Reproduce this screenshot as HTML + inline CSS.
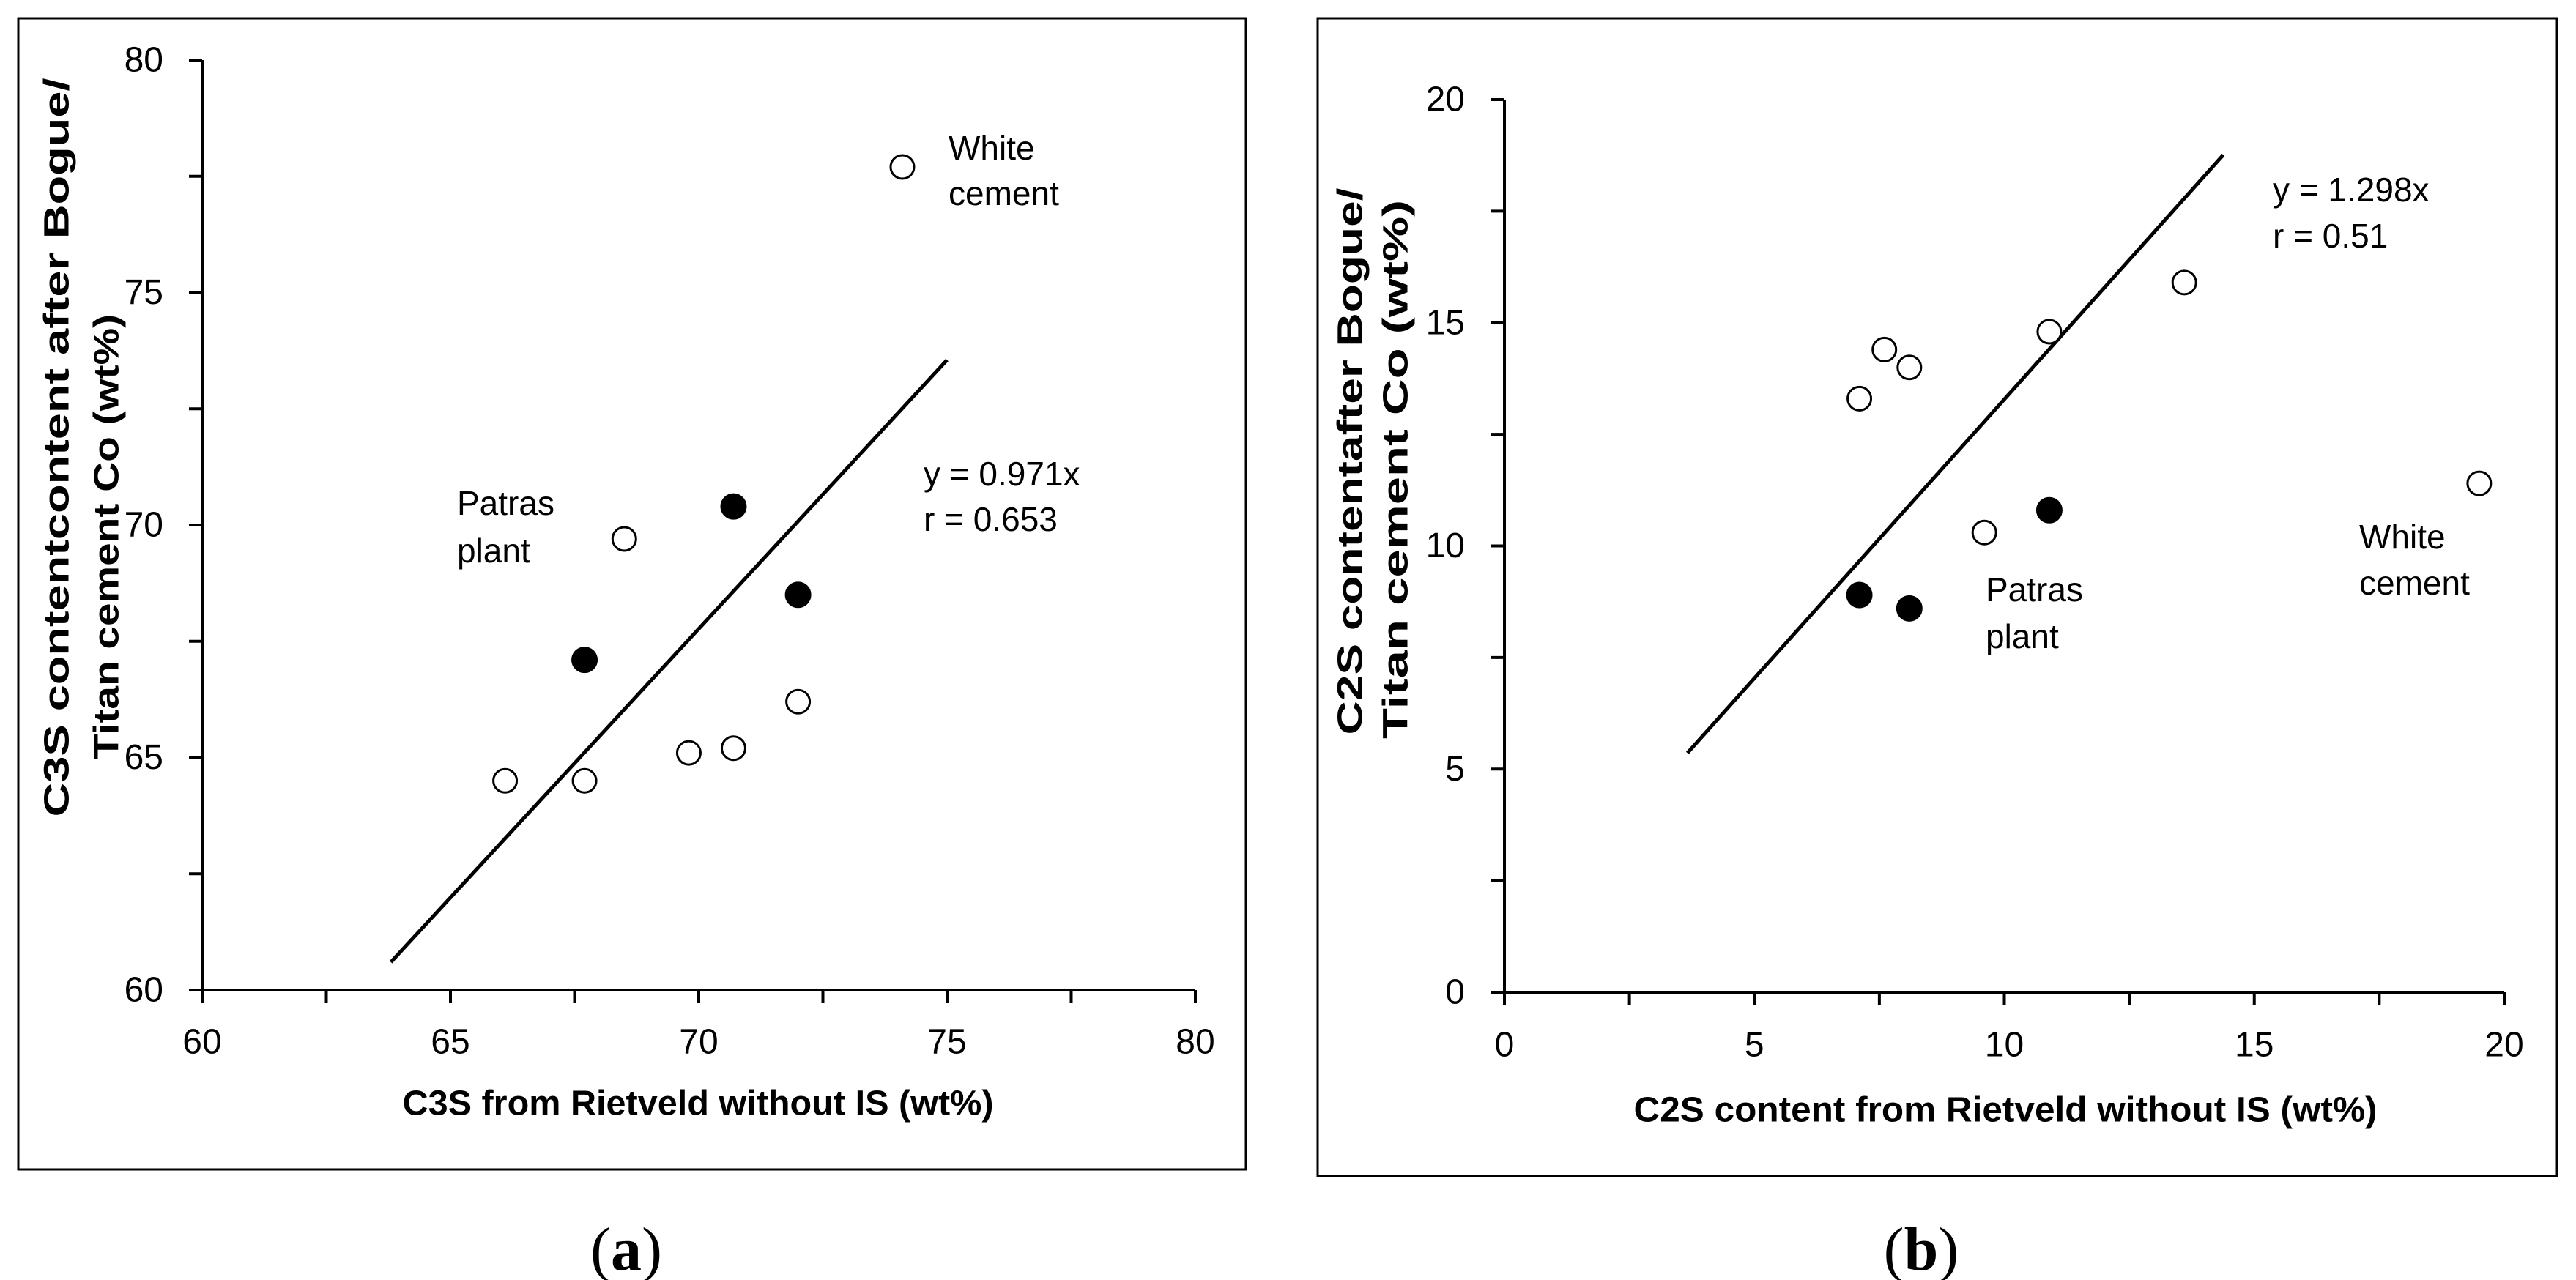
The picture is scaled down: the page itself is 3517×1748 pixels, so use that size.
<!DOCTYPE html>
<html><head><meta charset="utf-8"><style>
html,body{margin:0;padding:0;background:#fff;}
svg{display:block;font-family:"Liberation Sans",sans-serif;}
</style></head><body>
<svg id="fig" width="3517" height="1748" viewBox="0 0 3517 1748">
<rect x="25" y="25" width="1676" height="1572" fill="none" stroke="#000" stroke-width="3"/>
<rect x="1799" y="25" width="1692" height="1581" fill="none" stroke="#000" stroke-width="3"/>
<g id="ga"></g>
<g id="gb"></g>
<text x="855" y="1734" font-family="Liberation Serif,serif" font-size="84" text-anchor="middle">(<tspan font-weight="bold">a</tspan>)</text>
<text x="2623" y="1734" font-family="Liberation Serif,serif" font-size="84" text-anchor="middle">(<tspan font-weight="bold">b</tspan>)</text>
</svg>
<script>
// Panel a data
const aTicks = [60, 65, 70, 75, 80];
const aOpenX = [74.1, 68.5, 72.0, 69.8, 70.7, 66.1, 67.7];
const aOpenY = [77.7, 69.7, 66.2, 65.1, 65.2, 64.5, 64.5];
const aFillX = [70.7, 72.0, 67.7];
const aFillY = [70.4, 68.5, 67.1];
const aLineX = [63.8, 75.0];
const aLineY = [60.6, 73.55];
// Panel b data
const bTicks = [0, 5, 10, 15, 20];
const bOpenX = [7.1, 7.6, 8.1, 10.9, 13.6, 9.6, 19.5];
const bOpenY = [13.3, 14.4, 14.0, 14.8, 15.9, 10.3, 11.4];
const bFillX = [7.1, 8.1, 10.9];
const bFillY = [8.9, 8.6, 10.8];
const bLineX = [3.66, 14.38];
const bLineY = [5.36, 18.76];

const NS = "http://www.w3.org/2000/svg";
function mk(parent, tag, attrs, text) {
  const e = document.createElementNS(NS, tag);
  for (const k in attrs) e.setAttribute(k, attrs[k]);
  if (text !== undefined) e.textContent = text;
  parent.appendChild(e);
  return e;
}

function panel(g, cfg) {
  const sx = v => cfg.x0 + (v - cfg.min) / (cfg.max - cfg.min) * (cfg.x1 - cfg.x0);
  const sy = v => cfg.y0 - (v - cfg.min) / (cfg.max - cfg.min) * (cfg.y0 - cfg.y1);
  let e;
  e = mk(g, "line", {x1: cfg.x0 - 18, y1: cfg.y0, x2: cfg.x1, y2: cfg.y0, stroke: "#000", "stroke-width": 4});
  
  
  e = mk(g, "line", {x1: cfg.x0, y1: cfg.y0 + 18, x2: cfg.x0, y2: cfg.y1, stroke: "#000", "stroke-width": 4});
  
  
  const step = (cfg.max - cfg.min) / 8;
  for (let i = 1; i <= 8; i++) {
    const v = cfg.min + i * step;
    e = mk(g, "line", {x1: sx(v), y1: cfg.y0, x2: sx(v), y2: cfg.y0 + 18, stroke: "#000", "stroke-width": 4});
    
    
    e = mk(g, "line", {x1: cfg.x0 - 18, y1: sy(v), x2: cfg.x0, y2: sy(v), stroke: "#000", "stroke-width": 4});
    
    
  }
  cfg.ticks.forEach(t => {
    e = mk(g, "text", {x: sx(t), y: cfg.y0 + cfg.xlabOff, "font-size": 48, "text-anchor": "middle", "dominant-baseline": "central"}, String(t));
    
    
    e = mk(g, "text", {x: cfg.ylabX, y: sy(t), "font-size": 48, "text-anchor": "end", "dominant-baseline": "central"}, String(t));
    
    
  });
  e = mk(g, "line", {x1: sx(cfg.lx[0]), y1: sy(cfg.ly[0]), x2: sx(cfg.lx[1]), y2: sy(cfg.ly[1]), stroke: "#000", "stroke-width": 5});
  
  
  cfg.ox.forEach((x, i) => {
    e = mk(g, "circle", {cx: sx(x), cy: sy(cfg.oy[i]), r: 16, fill: "#fff", stroke: "#000", "stroke-width": 3});
    
    
  });
  cfg.fx.forEach((x, i) => {
    e = mk(g, "circle", {cx: sx(x), cy: sy(cfg.fy[i]), r: 17, fill: "#000", stroke: "#000", "stroke-width": 2});
    
    
  });
  e = mk(g, "text", {x: cfg.xt[0], y: cfg.xt[1], "font-size": 48, "font-weight": "bold", "text-anchor": "middle", "dominant-baseline": "central", textLength: cfg.xt[2], lengthAdjust: "spacingAndGlyphs"}, cfg.xtitle);
  
  
  cfg.yt.forEach(l => {
    e = mk(g, "text", {x: 0, y: 0, transform: `translate(${l[0]},${l[1]}) rotate(-90)`, "font-size": 48, "font-weight": "bold", "text-anchor": "middle", "dominant-baseline": "central", textLength: l[2], lengthAdjust: "spacingAndGlyphs"}, l[3]);
    
    
  });
  cfg.notes.forEach(n => {
    e = mk(g, "text", {x: n[0], y: n[1], "font-size": 46, "dominant-baseline": "central"}, n[2]);
    
    
  });
}

panel(document.getElementById("ga"), {
  x0: 276, x1: 1632, y0: 1352, y1: 82, min: 60, max: 80, ticks: aTicks,
  xlabOff: 71, ylabX: 223,
  ox: aOpenX, oy: aOpenY, fx: aFillX, fy: aFillY, lx: aLineX, ly: aLineY,
  xtitle: "C3S from Rietveld without IS (wt%)", xt: [953, 1507, 807],
  yt: [[78, 611, 1009, "C3S contentcontent after Bogue/"], [146, 733, 608, "Titan cement Co   (wt%)"]],
  notes: [[1295, 202, "White", "annotation-white-cement"], [1295, 264, "cement", "annotation-white-cement"],
          [624, 687, "Patras", "annotation-patras-plant"], [624, 752, "plant", "annotation-patras-plant"],
          [1261, 647, "y = 0.971x", "regression-equation"], [1261, 709, "r = 0.653", "correlation-label"]]
});
panel(document.getElementById("gb"), {
  x0: 2054, x1: 3419, y0: 1355, y1: 136, min: 0, max: 20, ticks: bTicks,
  xlabOff: 72, ylabX: 2000,
  ox: bOpenX, oy: bOpenY, fx: bFillX, fy: bFillY, lx: bLineX, ly: bLineY,
  xtitle: "C2S content from Rietveld without IS (wt%)", xt: [2738, 1516, 1015],
  yt: [[1844, 630, 747, "C2S contentafter Bogue/"], [1906, 641, 736, "Titan cement Co (wt%)"]],
  notes: [[3103, 259, "y = 1.298x", "regression-equation"], [3103, 322, "r = 0.51", "correlation-label"],
          [3221, 733, "White", "annotation-white-cement"], [3221, 796, "cement", "annotation-white-cement"],
          [2711, 805, "Patras", "annotation-patras-plant"], [2711, 869, "plant", "annotation-patras-plant"]]
});
</script>
</body></html>
